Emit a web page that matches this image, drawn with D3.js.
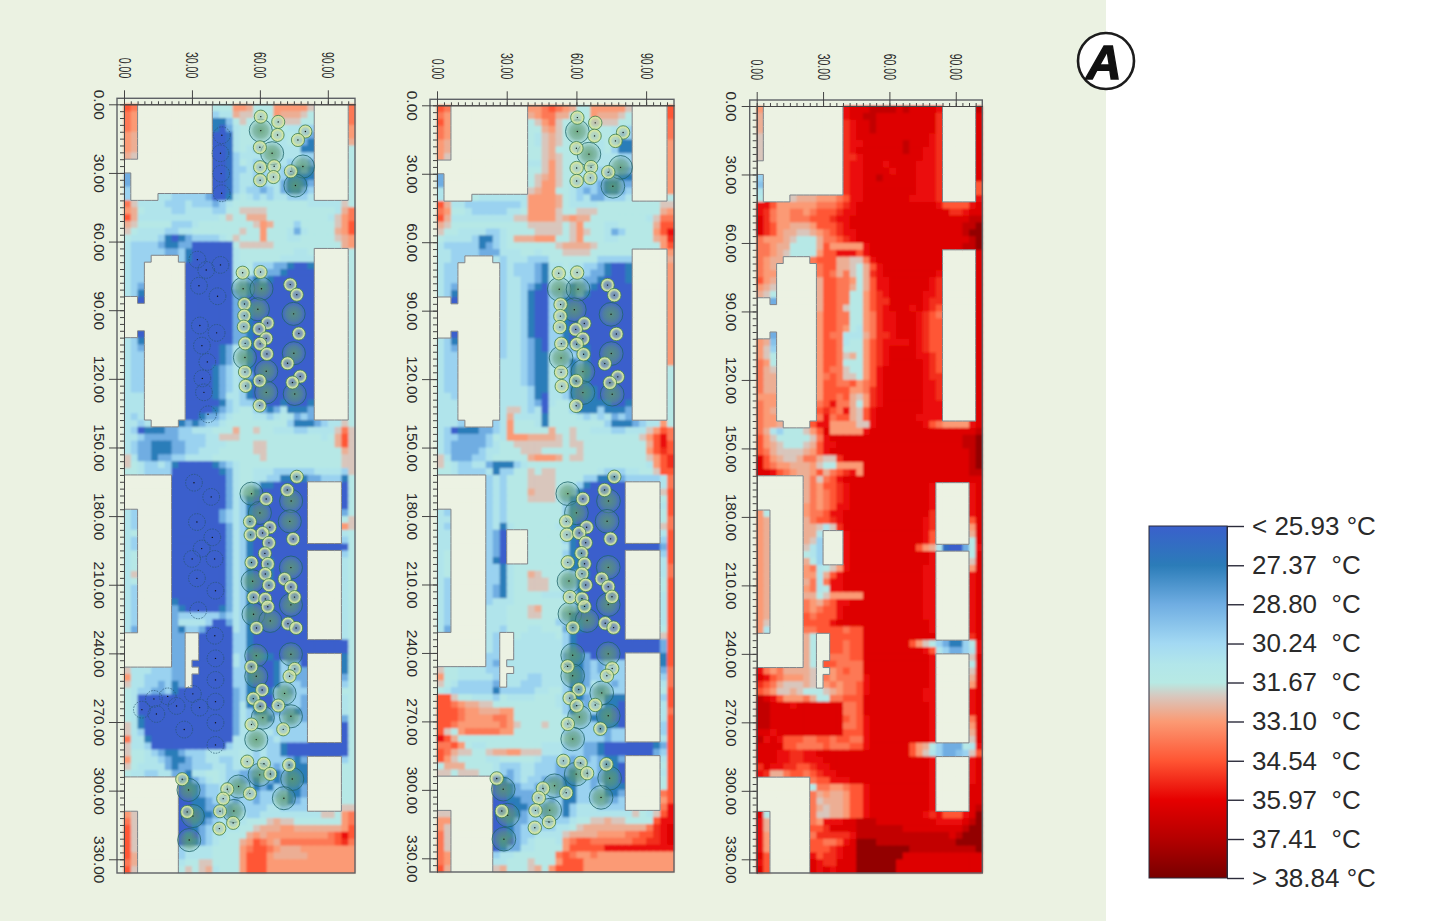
<!DOCTYPE html>
<html>
<head>
<meta charset="utf-8">
<title>Air temperature maps</title>
<script src="https://cdn.jsdelivr.net/npm/d3@7"></script>
<style>
  body { margin: 0; background: #fff; }
  svg { display: block; }
  text { font-family: "Liberation Sans", sans-serif; fill: #2a2a2a; white-space: pre; }
</style>
</head>
<body>
<div id="chart"></div>
<script>
// legend
var legendTemps = [25.93, 27.37, 28.80, 30.24, 31.67, 33.10, 34.54, 35.97, 37.41, 38.84];
var legendLabels = ["< 25.93 °C", "27.37  °C", "28.80  °C", "30.24  °C", "31.67  °C", "33.10  °C", "34.54  °C", "35.97  °C", "37.41  °C", "> 38.84 °C"];
var colorTemps = [25.93, 27.37, 28.80, 30.24, 31.00, 31.67, 32.20, 33.10, 34.54, 35.97, 37.41, 38.84];
var colorValues = ["#3a60cc", "#2b7cb8", "#6fade2", "#a3d9f3", "#b2e6ea", "#b7e9e4", "#d9c6bc", "#fb9a74", "#ff5533", "#e60000", "#b40000", "#780000"];

// each letter of a row is one 3 m cell, "." is a building
var tempCodes = "abcdefghijklmnopqrst".split("");
var tempValues = [25.9, 26.6, 27.4, 28.1, 28.8, 29.5, 30.0, 30.9, 31.5, 32.2, 32.7, 33.1, 33.8, 34.5, 35.2, 35.7, 36.2, 37.0, 38.2, 38.8];

var xMajor = [0, 30, 60, 90];
var yMajor = [0, 30, 60, 90, 120, 150, 180, 210, 240, 270, 300, 330];

var rowsLeft = [
"nm... ..... ...ii illki iilll llj.. ...m",
"ml... ..... ...gh hkjji iilkk kji.. ...m",
"ml... ..... ...cc fijii iiijj jii.. ...m",
"ml... ..... ...ca ehiih iiiih hgg.. ...l",
"lk... ..... ...aa bhiih iiihi hge.. ...l",
"lk... ..... ...aa bhiih ihhhi hec.. ...k",
"lk... ..... ...aa bhihg hihhh hcc.. ...i",
"kj... ..... ...aa bghhh hihhh hgg.. ...i",
"..... ..... ...aa bgihg hihhg hge.. ...i",
"..... ..... ...aa bgghg ghhgg cec.. ...i",
"e.... ..... ...aa bghhg ghhgc ccc.. ...i",
"e.... ..... ...aa bghhg ghhec cce.. ...i",
"g.... ..... ...aa bghgg eghec ceg.. ...i",
"g.... hhggg ggeaa chihg hghhg ggh.. ...i",
"mjhhh hgggh gggeg hiiii iiiii iihhh hhji",
"lkihh hhggh hhhgg iijjj jiiii iiiii ihkm",
"nkhhh hhhhh hhhhi jiikk kiiii iiiii hjlm",
"kjiii iiggg hiiii iiiij lkiii giiii ijln",
"jihhh hgghh iiiii iijii liiih ehiii ikln",
"ihhhh gcace ggggh ijiii liiih hiiii ijkl",
"hgggg eccee aaaaa aijjj jjiii iiiii iikl",
"hgggg geegc aaaaa ahiii iiiii hhi.. ...i",
"hggg. ...gc aaaaa ahiii iiihh hhh.. ...i",
"hgg.. ....a aaaaa ahhig ggeec aac.. ...i",
"hgg.. ....a aaaaa ahhig geeca aaa.. ...i",
"hgg.. ....a aaaaa ahgec ecaaa aaa.. ...i",
"hge.. ....a aaaaa ageca caaaa aaa.. ...i",
"hgc.. ....a aaaaa aeeca aaaaa aaa.. ...i",
"..a.. ....a aaaaa aecaa aaaaa aaa.. ...i",
"..... ....a aaaaa aeeca aaaaa aaa.. ...i",
"..... ....a aaaaa aeeca aaaaa aaa.. ...i",
"..... ....a aaaaa aeeca aaaaa aaa.. ...i",
"..... ....a aaaaa aeeca aaaaa aaa.. ...i",
"..a.. ....a aaaaa aeeca aaaaa aaa.. ...i",
"hgc.. ....a aaaaa aeeca aaaaa aaa.. ...i",
"hge.. ....a aaaac ehgca aaaaa aaa.. ...i",
"hgg.. ....a aaaac ehgca aaaaa aaa.. ...i",
"hgg.. ....a aaaac ehgca aaaaa aaa.. ...i",
"hgg.. ....a aaace ghgca aaaaa aaa.. ...i",
"hgg.. ....a aaace ghgea aaaaa aaa.. ...i",
"hgg.. ....a aaace ghgca aaaaa aaa.. ...i",
"hgg.. ....a aaace ghgca aaaaa aaa.. ...i",
"hhh.. ....a aaace hhgca aaaaa aaa.. ...i",
"hhh.. ....a aaaac ghgge aaaca aac.. ...i",
"hhh.. ....a aaace ghiig ecehc cce.. ...i",
"hgh.. ....a aceeg hiiih hghih ege.. ...i",
"hhgh. ...ce ceggh iiiii iiiig ccceg hhji",
"hgacc ceegg hhhii ikiij iihhh gghhh hjmj",
"hhgee eeegg gghhj jjiii iiiii iiiih iknj",
"hgeec cceeg gghhh iiiij jiiii iiiii iknj",
"hgeec cceeg ghhhi iiiij jiiii iiiii iikj",
"jheec eeggh hhhii iiiii jiiii iiiii iijj",
"jihgg hgcaa aaace ghiii iiiii iiiii iijj",
"iihgg ggaaa aaaac ehiih hhggg ggghh hhgj",
"..... ..aaa aaaaa ehiih hggcc cceeg ggci",
"..... ..aaa aaaaa ehihg ccaaa aa... ..ai",
"..... ..aaa aaaaa ehihc aaaaa aa... ..ai",
"..... ..aaa aaaaa ehgca aaaaa aa... ..ai",
"..... ..aaa aaaaa ehgca aaaaa aa... ..ai",
"hg... ..aaa aaaae ghgca aaaaa aa... ..ei",
"hg... ..aaa aaaae ghgca aaaaa aa... ..ij",
"hg... ..aaa aaaaa ehgca aaaaa aa... ..lj",
"hi... ..aaa aaaaa ehgca aaaaa aa... ..hi",
"hg... ..aaa aaaaa ehgca aaaaa aa... ..gi",
"hg... ..aaa aaaaa ehgca aaaaa aaaaa aaai",
"hi... ..aaa aaaaa ehgca aaaaa aa... ..gi",
"hi... ..aaa aaaaa ehgca acaaa aa... ..hi",
"hi... ..aaa aaaaa ehgca acaaa aa... ..hi",
"hj... ..aaa aaaaa ehgca acaaa aa... ..hi",
"hi... ..aaa aaaaa ehgca acaaa aa... ..hi",
"hg... ..aaa aaaaa ehgca aaaaa aa... ..hi",
"hg... ..aaa aaaaa ehgca aaaaa aa... ..hi",
"hg... ..caa aaaaa ehgca aaaaa aa... ..hi",
"hg... ..eca aaaac ehgca aaaaa aa... ..hi",
"hg... ..egg gggge ghgca aaaaa aa... ..hi",
"hg... ..ehh hhgaa ehgca aaaaa aa... ..hi",
"he... ..ecg geaaa ahgca aaaaa aa... ..hi",
"..... ..ee. .aaaa aggca aaaaa aa... ..hi",
"..... ..ee. .aaaa aggca aaaaa aaaaa aaai",
"..... ..ee. .aaaa aggca aaaaa aaaaa aaai",
"..... ..ee. .aaaa ahgac ccaaa aa... ..ci",
"..... ..ee. aaaaa ahgaa aacge ea... ..ci",
"jhhhg ggee. .aaaa aggaa aacgg ee... ..ci",
"lhhgg ggee. aaaaa aggca aacgg ee... ..ei",
"jhhgg egce. aaaaa aggca aacgg ge... ..gi",
"ihgge egcaa aaaaa aegcc acgge gg... ..ii",
"ihaaa aaaaa aaaaa aegcc aaggg ge... ..hi",
"ihaaa aaaaa aaaaa aehcc aaeeg ge... ..hi",
"ihaaa aaaaa aaaaa aehgc ceeee ce... ..hi",
"ihcaa aaaaa aaaaa aehgg gcgge ge... ..ei",
"jhcaa aaaaa aaaaa aehhg ggggg gg... ..ai",
"jhgaa aaaaa aaaaa aehhh hhggg gg... ..ai",
"mhhca aaaaa aaaaa ahhhh hghgg gg... ..ai",
"jhhga aaaaa aaaaa ghhhh hggca aaaaa aaai",
"jiihg ecceg gghhh hhihg hggca aaaaa aaai",
"liihh gecce gghhg ghihg hggge ce... ..gi",
"jihhh hecee ggghh ghhgg ggegc cc... ..ii",
"ihhgg hheec hhiih ggeee gecec cc... ..ii",
"..... ...ec eghih ggeec gecec cc... ..ii",
"..... ...ac ceggh hgggc ecgec ce... ..ii",
"..... ...aa ceggh gggge ggggc ce... ..ii",
"..... ...aa ccegg gegge gghgc eg... ..ii",
"..... ...aa cceeg egggg ghhgg gg... ..jj",
"lj... ...aa acceg eghgg hhhhh hhhhj jilm",
"mj... ...aa ccegh ghhii ijkjj iiiii iilm",
"nj... ...aa ceggh hhiij kkkll kkkkk kkln",
"nj... ...ac aeghh iiikl kllll lllll mnpn",
"nj... ...ac ceghi iikln mlkmm mmmmm mnom",
"nj... ...gh hhhii iilmn nmlkk kllll llll",
"nk... ...gh hhhii iilnn nlkkk kklll llll",
"mk... ...hi ijjii iilnn nllll lllll llll",
"nj... ...ij ijkhi iilnn nllll lllll llll"
];

var rowsMiddle = [
"nm... ..... ...ll mnmlk iilll llj.. ...n",
"ml... ..... ...kl mmkki iilkk kji.. ...n",
"nl... ..... ...ij lmjii iijjj jii.. ...m",
"ml... ..... ...ii kljii iiiii hhg.. ...m",
"ml... ..... ...ih jkjii iiiii heg.. ...m",
"lk... ..... ...ih jkjii iiihi hcc.. ...l",
"lk... ..... ...ii jkiii iihhi gcc.. ...l",
"lj... ..... ...ii jkjii ihhhh hgg.. ...l",
"..... ..... ...hh jljii iihhh hgg.. ...l",
"..... ..... ...ii jljii hhhgg gee.. ...l",
"e.... ..... ...ij kljii hhgge ecc.. ...l",
"e.... ..... ...ij lljih gggec cee.. ...l",
"h.... ..... ...jk lliih gegec ceg.. ...l",
"h.... ihhhh hhhll llkih gheeg ggh.. ...i",
"nkhhg ggggg gghll llkih hhhii iiiii iijj",
"mliih ggggg hhill lljii jjjii iiiii iikl",
"nkhhh hhhhh hjjll lljkl kkiii iiiii hjmm",
"kjiii iiiii iiijj jjjij liiih hiiii iknn",
"jiihh hhggh iiiij jjjij ljiih egiii ilnp",
"ihhhh gccgh ikkkl lliij liiih hiiii iklo",
"hgggg gcegh iiiii iijkk kkjii iiiii iiln",
"hhggg geeeh hhiih iiijj jjiii iii.. ...l",
"hhgg. ...hg hhhgg giiii iiigg ggg.. ...k",
"hgg.. ....g hggge chhih hggec aac.. ...l",
"hgg.. ....g hggge chhih hgeec aac.. ...l",
"hgg.. ....g hhgge chhhg geeca aac.. ...l",
"hge.. ....g hhgec ahhgc eecaa aaa.. ...l",
"hgc.. ....g hhgca aggec ecaaa aaa.. ...l",
"..a.. ....g hhgca aggca aaaaa aaa.. ...l",
"..... ....g hhgca aggca aaaaa aaa.. ...l",
"..... ....g hhgca aggca aaaaa aaa.. ...l",
"..... ....g hhgca aggca aaaaa aaa.. ...l",
"..... ....g hhgca aggca aaaaa aaa.. ...l",
"..a.. ....g hhgca aggca aaaaa aaa.. ...l",
"hgc.. ....g hhgec aggca caaaa aaa.. ...l",
"hge.. ....g hhgec aghge ccaaa aaa.. ...l",
"hgg.. ....g hhgec chhgg ecaaa aaa.. ...l",
"hgg.. ....h hhgec chhgc ecaaa aaa.. ...l",
"hgg.. ....h hhgec chhgc ecaaa aaa.. ...i",
"hgg.. ....h hhgec chhgc ecaaa aaa.. ...i",
"hgg.. ....h hhgec chhgc acaaa aaa.. ...i",
"hgg.. ....h hhhgc chhgc accaa aaa.. ...i",
"hhg.. ....h hhhgc ahhgc accaa aaa.. ...i",
"hhh.. ....h hhhge ahiig acccc aac.. ...i",
"hhh.. ....h jjhgh aiiig cccgc cce.. ...i",
"hhh.. ....h khhhh ciiii hghgh ege.. ...i",
"hhhg. ...gh liiih ciiii iiiig ccceg hhli",
"hgacc ceegh liiii ikiij iihhh gghhh jlnm",
"hggee eegih lllkk kkjij iiiii iiiij lnpm",
"hgeee eeghi ijjjj jjjij jiiii iiiii knpn",
"hgeee eghhi iijjj iiiii jiiii iiiii lnon",
"jheee gghii iiikl llkij jiiii iiiii jlno",
"jihgg hhecc cghii iiiii iiiii iiiii hlno",
"iihgg gghcg giiji jjiii iiihg gghhi ijnn",
"..... ..ghg iiijj jjiii iggcc ceggg gghm",
"..... ..ghg iiijj jjiih gcaaa aa... ..hm",
"..... ..ghg iiikj jjiig caaaa aa... ..jn",
"..... ..ghg iiijj jjhgc aaaaa aa... ..in",
"..... ..ghg iiiii iiigc aaaaa aa... ..hn",
"hg... ..ghg iiiii iiigc aaaaa aa... ..in",
"hh... ..ghg iiiii iiigc aaaaa aa... ..im",
"hg... ..ghc hiiii iihgc aaaaa aa... ..jm",
"hh... ..gea ...ii iiigc aaaaa aa... ..hn",
"hh... ..gea ...ii iiigc aaaaa aa... ..gn",
"hh... ..gea ...ii iiihc aaaaa aaaaa aaen",
"hi... ..gea ...ii iiigc caaaa aa... ..gn",
"hi... ..gca ...ii iiigc caaaa aa... ..hn",
"hi... ..ggc hiiii iiigc caaaa aa... ..hm",
"hi... ..ggc hiikj iiihg ecaaa aa... ..hm",
"hg... ..ggc hiijj jiigg caaaa aa... ..in",
"hg... ..gec hiijj jiigg caaaa aa... ..in",
"hg... ..gec hiiii hhhgg caaaa aa... ..hn",
"hg... ..ghh hiiii iiihg caaaa aa... ..hn",
"hg... ..hhh iiijk iiiig ccaaa aa... ..hn",
"hg... ..hhh iiijj iiigc aaaaa aa... ..hn",
"hg... ..hhh iiiii iiggc caaaa aa... ..hn",
"he... ..hhg iiihh iiiec caaaa aa... ..in",
"..... ..hg. .ihhh hhigc aaaaa aa... ..jn",
"..... ..hg. .hhhh hhhgc aaaaa aaaaa aaen",
"..... ..hg. .hhhh hhhgc aaaaa aaaaa aaen",
"..... ..gg. .hhhh hhhec ceaaa aa... ..cn",
"..... ..ge. hhhhh hhhec cegeg gg... ..cn",
"jiihh hhgg. .hhhh hhhgc cegeg gg... ..em",
"liihh hhhg. hhhgg hhhgc ceggg gg... ..gm",
"jihgg ggge. hhggg hhhgc cehgg eg... ..hm",
"ihggg gggcg ggggh hiigc cggeg gg... ..in",
"nnjii hhhgi hhhhi iihgc ceggc cc... ..gn",
"nnmlk kjjii iiiii iihgc geggc ca... ..hn",
"nnnml lkkkl liiii iiigc gggcc aa... ..hm",
"nnnml lllmm liiii iiihg ggccc aa... ..hn",
"nnmll llllm ljiii jiigg gggcc ca... ..gn",
"njilm mmmml liiii iiigg gggce gg... ..gn",
"pnkii iiiii iiiii iiihg gggge gg... ..hn",
"mmnli hhiii iiiii hhhgg geeca aaaaa acen",
"nmkjj iijkk lljjj hhhgg geeca aaaaa aegn",
"nljii iihhi iiiih gggge gegec ce... ..hn",
"ikkki iiihg gghhg ggeee eggec ca... ..in",
"jjijj jiihg eghhg ggeec gggec ca... ..hn",
"..... ...ac eghgg eeecc ggeec ca... ..in",
"..... ...aa cegge ggecc ggegc cc... ..in",
"..... ...aa ceeeg ggegc ggggc ce... ..mn",
"..... ...aa cceeg gegcc gggge eg... ..ln",
"..... ...aa acceg eggcg hhhgg gg... ..mp",
"jj... ...aa acegg eggcg hhhhh hhhji hjnp",
"ll... ...aa ceegg ggggh iijjk jjiii inpp",
"lj... ...aa ceggg gghhi jkkkk kkkkk mopq",
"mj... ...aa ceggh hhhjk kkkll llmmn nopq",
"mj... ...ac aeghi iihlm nnmmm mmmnn oopq",
"mj... ...ac eehhi iiiln nnnnp ppppp pppp",
"ml... ...gh hiiii iimnm llmll lllll llll",
"ml... ...hh iiiji iilnn nllll lllll llll",
"nk... ...jk iiijk ilnnn nllll lllll llll"
];

var rowsRight = [
"l.... ..... ...pq qqrrr rqrqq qqp.. ...r",
"k.... ..... ...pq qrrqq qqqqq qqo.. ...q",
"k.... ..... ...op qqrqq qqqqq qqo.. ...q",
"k.... ..... ...op qqrqq qqqqq qqo.. ...q",
"j.... ..... ...op qqqqq qqqqq qpo.. ...q",
"j.... ..... ...op pqqqq qqrqq qpo.. ...q",
"j.... ..... ...op qqqqq qqrqq ppo.. ...q",
"j.... ..... ...oo pqqqq qqqqq ppo.. ...q",
"..... ..... ...op pqqqp qqqqp ppo.. ...q",
"..... ..... ...op pqqqq pqqqp ppo.. ...q",
"g.... ..... ...op pqqrq qqqqp ppo.. ...q",
"f.... ..... ...op pqqqq qqqqp ppo.. ...n",
"h.... ..... ...op pqqqq qqqqp ppo.. ...n",
"i.... jkkkl llmnp pqqqq qqqpp ppo.. ...p",
"ppnll llllm mmnop qqqqq qqqqq qqpnn nnpq",
"pomll mmlmn nnopp qqqqq qqqqq qqqqo opqq",
"qomll mmmnn noppq qqqqq qqqqq qqqqq qqrr",
"qonll kkkln nnopq qqqqq qqqqq qqqqq qrrs",
"qonlk kjjkl mnopp qqqqq qqqqq qqqqq qrss",
"mlllk jiiik mmnop qqqqq qqqqq qqqqq qqrs",
"mmlkk iiiik nllll lpqqq qqqqq qqqqq qrrs",
"mmlkj iiiil nnppp npqqq qqqqq qqq.. ...q",
"mlkk. ...mn nnkkj jmpqq qqqqq qqq.. ...q",
"mlk.. ....m nnkkj iknpq qqqqq qqq.. ...q",
"mll.. ....m nmkmj ikopq qqqqq qqp.. ...q",
"nlk.. ....k nnmml iknpp qqqqq qpo.. ...q",
"lkj.. ....k nnmmk iknpp qqqqq qpo.. ...q",
"kji.. ....k nnmmi ilnop qqqqq ppo.. ...q",
"..e.. ....k nnmmi ilnoo qqqqq poo.. ...q",
"..... ....k nnmji ilnop qqqpq pon.. ...q",
"..... ....l nnmmi ilmop pqqqp onm.. ...q",
"..... ....l nnmmi ilmop pqqqp onn.. ...q",
"..... ....l nnmli hlmop pqqqp onn.. ...q",
"..e.. ....l nmmhh hkmoo pqqqp onn.. ...q",
"lkf.. ....l nnmhi ilnop pppqp onn.. ...q",
"ljg.. ....l nnmii ilnop qqqqp onn.. ...q",
"lji.. ....l nnmjk ilnop qqqqp pon.. ...q",
"mli.. ....l nnmii ilnop qqqqq pon.. ...q",
"mkj.. ....l nmmji ilnpq qqqqq pon.. ...q",
"mkk.. ....l mnmjj ilnpq qqqqq poo.. ...q",
"mkk.. ....l nnmmn lmnpq qqqqq ppo.. ...q",
"mkk.. ....l nnnnl lmopq qqqqq ppo.. ...q",
"lll.. ....l nnmnk jlopq qqqqq ppo.. ...q",
"mll.. ....m npmmk ilopq qqqqq ppp.. ...q",
"mlk.. ....n onmpk jnpqq qqqqq ppp.. ...q",
"mll.. ....m pmnnk jnpqq qqqqp ppp.. ...q",
"mllk. ...np pllll jjpqq qqqqq pnmll llpq",
"mkhgi iijln qllll lpqqq qqqqq qqqqq qqqr",
"nljii iiijm pqqqq qqqqq qqqqq qqqqq qrrs",
"nlkji iijkn ppqqq qqqqq qqqqq qqqqq qrrs",
"nmkjj jjkln pqqqq qqqqq qqqqq qqqqq qqrs",
"qnlkj jkmmk jjoqq qqqqq qqqqq qqqqq qqrs",
"qnmll kkklj iilll lqqqq qqqqq qqqqq qqrs",
"qqpnm lkkln kmnop lqqqq qqqqq qqqqq qqrr",
"..... ..kmj mnpqq qqqqq qqqqq qqqqq qqqq",
"..... ..kml nnopq qqqqq qqqqq qp... ..pq",
"..... ..kml mnopq qqqqq qqqqq qp... ..pq",
"..... ..kml mnopq qqqqq qqqqq qp... ..pq",
"..... ..lml mnppq qqqqq qqqqq qp... ..pq",
"li... ..lmm nppqq qqqqq qqqqq qo... ..pq",
"lk... ..kmn nopqq qqqqq qqqqq po... ..nq",
"lk... ..kkj hjoqq qqqqq qqqqq po... ..lq",
"lk... ..kkh ...pq qqqqq qqqqq pn... ..kq",
"lk... ..kjg ...pq qqqqq qqqqq pn... ..iq",
"lk... ..jhg ...pq qqqqq qqqqn lkhba aeip",
"lk... ..ihg ...pq qqqqq qqqqq qp... ..iq",
"lk... ..kig ...pq qqqqq qqqqq qp... ..jq",
"lk... ..lmh ijlpq qqqqq qqqqq pp... ..lq",
"lk... ..llh knpqq qqqqq qqqqq pp... ..pq",
"lk... ..kmh mppqq qqqqq qqqqq pp... ..pq",
"lk... ..lmh ippqq qqqqq qqqqq pp... ..pq",
"lk... ..kki jllll lqqqq qqqqq pp... ..pq",
"lk... ..mlk mnppq qqqqq qqqqq pp... ..pq",
"lk... ..mlm nnpqq qqqqq qqqqq pp... ..pq",
"lk... ..nmn nnpqq qqqqq qqqqq pp... ..pq",
"lj... ..nnn npqqq qqqqq qqqqq qp... ..pq",
"lh... ..mmn nnnmn nqqqq qqqqq qp... ..pq",
"..... ..ki. .nnnn nqqqq qqqqq qq... ..oq",
"..... ..ki. .nnmn nqqqq qqqnl jigec cgip",
"..... ..ki. .nnmn nqqqq qqqqq pnhge eghp",
"..... ..ki. .mmmn nqqqq qqqqq qp... ..jq",
"..... ..ki. nnmmm mqqqq qqqqq qp... ..iq",
"pmlmk kkkj. .lmnm mqqqq qqqqq qp... ..jq",
"qpnml llkj. mlmmm mpqqq qqqqq qp... ..kq",
"onmkj jjkj. lmlmm npqqq qqqqq qp... ..lq",
"nmljj kjiii jklmm npqqq qqqqq pp... ..pq",
"rqpnl llmki immnn nqqqq qqqqq pp... ..pq",
"rrqqq pqqqq qqqmm nqqqq qqqqq qp... ..pq",
"rrqqq qqqqq qqqmm nqqqq qqqqq qp... ..pq",
"rrqqq qqqqq qqqnm npqqq qqqqq qp... ..mq",
"rrqqq qqqqq qqqmm npqqq qqqqq qp... ..lq",
"qqpqq qqqqq qqqnn npqqq qqqqq qp... ..kq",
"rpqpn nnmmn nmnnm mpqqq qqqqq qp... ..jq",
"qqqqn nmmmm nmmmn npqqq qqqnl kigee eihp",
"qqqpp ooppq qqqqq qqqqq qqqnl jhgee fgjn",
"qqqpp ooppp qqqqq qqqqq qqqqq qp... ..pq",
"oqppo onnop pqqqq qqqqq qqqqq qp... ..pq",
"pokkm nnmno ppqqq qqqqq qqqqq qp... ..pq",
"..... ...mn npppq qqqqq qqqqq qp... ..pq",
"..... ...im mllmn npqqq qqqqq qp... ..qq",
"..... ...mk lkkln npqqq qqqqq qp... ..qq",
"..... ...mj kkkln npqqq qqqqq qp... ..qq",
"..... ...mk jkkln npqqq qqqqq qp... ..qr",
"qi... ...mj jkkln npqqq qqqqq popnn npqs",
"pk... ...ml pppqq rrrqq qqqqq qqppp pqrs",
"pk... ...nn oqqqq rrrrr rrqqq qqqqq qrss",
"pl... ...mo oooop rrrrr rrrrr rrrrq rsss",
"pl... ...nn mmnpq sssrr rrrrr rrrrr ssss",
"pl... ...nn nopqq sssss sssrr rrrrr rrrs",
"qn... ...pn oopqq sssss ssqqq qqqqq qqqq",
"pn... ...qp ooqqq sssss sqqqq qqqqq qqqq",
"qn... ...qp qpqqq sssss sqqqq qqqqq qqqq"
];

// trees in metres: x, y
var smallTreeX = [60.4,68.1,67.8,80.1,76.8,60,60.1,66.3,66,60.1,73.7,52.4,60.3,73.4,76.3,53.2,53.1,52.9,63.4,59.7,62.8,60.1,53.5,77.2,63.1,72.2,53.4,77.8,74.4,59.9,53.7,59.9,76.3,72.1,62.8,55.6,64.4,55.9,61.2,64,62.2,63.5,56.3,62.4,70.9,64,73.7,75.3,57.2,62.4,63.5,58.5,72.4,76,74.7,56.2,75.4,73.1,61,57.1,68.1,60.1,56.3,70.3,54.4,61.8,72.9,64.6,25.7,55.6,45.6,43.8,42.4,27.9,48.2,42.1];
var smallTreeY = [5.4,7.7,13.4,11.9,15.6,18.8,27.5,27.1,31.8,33.2,29.3,73.6,73.3,78.8,83.2,87.3,92.4,97.2,95.6,98.2,102.3,104.7,104.5,100.2,109.1,113.2,117,119,121.6,120.8,123.1,131.7,162.8,168.6,172.5,182.4,184.9,188.2,187.4,191.7,196.3,200.9,200.3,205.3,207.5,210.2,211,215.4,215.5,216.2,219.6,228.9,227,228.9,190,245.9,246.8,250,256,259.8,262.8,263.1,271.1,273.2,287.3,288.2,288.8,292.7,295,301.3,299.4,303.5,309,309.3,314.1,316.6];
var largeTreeX = [60.4,65.4,79,75.7,52.6,60.7,59.1,74.9,75,53.4,62.8,62.8,75.4,56.3,73.8,60,73.2,73.7,56.8,73.7,57.2,64.6,58.4,73.7,58.4,70.9,73.7,61.3,58.4,59.9,74.3,28.5,50.6,70.6,48.5,30.4,28.8];
var largeTreeY = [11.5,21.4,27.2,35.5,80.6,80.6,89.6,91.6,108.8,110.7,116.7,125.9,126.6,170.2,173.4,178.6,182.3,202.5,208.5,218.8,222.9,225.8,241,240.4,250,257.5,267.5,268.1,277.7,293.1,294.9,299.7,298.2,303.3,308.9,311.1,321.6];
var dashedTreeX = [32.4,36.3,42.6,33.1,41.3,33.5,40.9,34.4,36.8,34.6,35.3,37.1,43.2,42.6,42.9,43.1,30.9,38.5,32.2,39,34.3,30.1,40,32.2,40.4,32.8,40.1,40.4,40.4,30.4,19.3,13.2,23.2,7.9,14.3,33.4,40.4,40.4,26.6,40.4];
var dashedTreeY = [67.9,72.4,70.2,79.3,83.9,96.7,99.9,105.5,112.6,119.8,125.9,135.5,13.5,21.4,30.3,38.9,165.4,171.6,182.6,189.3,194.2,198.7,198.7,207.2,212.6,221.2,232.3,242.2,251.6,257.7,258.8,259.9,263,264.6,266.5,263.7,261.1,270.3,273.3,280];

var cellSize = 3;
var nCols = 34;
var nRows = 112;
var smallRadius = 2.9, largeRadius = 5.1, dashedRadius = 3.7;

var svg = d3.select("#chart").append("svg")
  .attr("width", 1440)
  .attr("height", 921);

svg.append("rect")
  .attr("width", 1106)
  .attr("height", 921)
  .attr("fill", "#ebf2e2");

var defs = svg.append("defs");

defs.append("filter")
  .attr("id", "soft")
  .append("feGaussianBlur")
  .attr("stdDeviation", 0.9);

var smallGrad = defs.append("radialGradient").attr("id", "smallFill");
smallGrad.append("stop").attr("offset", "0%").attr("stop-color", "#9db8a0").attr("stop-opacity", 0.5);
smallGrad.append("stop").attr("offset", "50%").attr("stop-color", "#b9cfa8").attr("stop-opacity", 0.6);
smallGrad.append("stop").attr("offset", "78%").attr("stop-color", "#d3e6a4").attr("stop-opacity", 0.95);
smallGrad.append("stop").attr("offset", "100%").attr("stop-color", "#d3e6a4").attr("stop-opacity", 1);

var largeGrad = defs.append("radialGradient").attr("id", "largeFill");
largeGrad.append("stop").attr("offset", "0%").attr("stop-color", "#5f9a6c").attr("stop-opacity", 0.8);
largeGrad.append("stop").attr("offset", "60%").attr("stop-color", "#5f9a78").attr("stop-opacity", 0.55);
largeGrad.append("stop").attr("offset", "100%").attr("stop-color", "#6aa090").attr("stop-opacity", 0.12);

var tempColor = d3.scaleLinear()
  .domain(colorTemps)
  .range(colorValues);

var codeColor = d3.scaleOrdinal()
  .domain(tempCodes)
  .range(tempValues.map(function(t) { return tempColor(t); }));

function parseRows(rows) {
  return rows.map(function(r) { return r.replace(/ /g, "").split(""); });
}

function drawPanel(rows, frame, withTrees, withDashed) {
  var grid = parseRows(rows);

  var x = d3.scaleLinear().domain([0, nCols * cellSize]).range([frame.left, frame.right]);
  var y = d3.scaleLinear().domain([0, nRows * cellSize]).range([frame.top, frame.bottom]);

  var cells = [];
  grid.forEach(function(row, r) {
    row.forEach(function(code, c) {
      if (code != ".") cells.push({ r: r, c: c, code: code });
    });
  });

  var g = svg.append("g");

  function drawCells(layer) {
    layer.selectAll("rect")
      .data(cells)
      .enter()
      .append("rect")
      .attr("x", function(d) { return x(d.c * cellSize); })
      .attr("y", function(d) { return y(d.r * cellSize); })
      .attr("width", function(d) { return x(cellSize) - x(0) + (d.c < nCols - 1 ? 1 : 0); })
      .attr("height", function(d) { return y(cellSize) - y(0) + (d.r < nRows - 1 ? 1 : 0); })
      .attr("fill", function(d) { return codeColor(d.code); });
  }

  // crisp layer under a blurred one, the blur alone fades at the outer border
  drawCells(g.append("g"));
  drawCells(g.append("g").attr("filter", "url(#soft)"));

  // blur bleeds into the buildings, so cover them again
  function isBuilding(r, c) {
    return grid[r] && grid[r][c] == ".";
  }
  var coverRect = [];
  var outline = d3.path();
  grid.forEach(function(row, r) {
    row.forEach(function(code, c) {
      if (code != ".") return;
      coverRect.push({ r: r, c: c });
      var x0 = x(c * cellSize), x1 = x((c + 1) * cellSize);
      var y0 = y(r * cellSize), y1 = y((r + 1) * cellSize);
      if (c > 0 && !isBuilding(r, c - 1)) { outline.moveTo(x0, y0); outline.lineTo(x0, y1); }
      if (c < nCols - 1 && !isBuilding(r, c + 1)) { outline.moveTo(x1, y0); outline.lineTo(x1, y1); }
      if (r > 0 && !isBuilding(r - 1, c)) { outline.moveTo(x0, y0); outline.lineTo(x1, y0); }
      if (r < nRows - 1 && !isBuilding(r + 1, c)) { outline.moveTo(x0, y1); outline.lineTo(x1, y1); }
    });
  });

  g.append("g")
    .selectAll("rect")
    .data(coverRect)
    .enter()
    .append("rect")
    .attr("x", function(d) { return x(d.c * cellSize) - 0.2; })
    .attr("y", function(d) { return y(d.r * cellSize) - 0.2; })
    .attr("width", x(cellSize) - x(0) + 0.4)
    .attr("height", y(cellSize) - y(0) + 0.4)
    .attr("fill", "#ecf2e3");

  g.append("path")
    .attr("d", outline.toString())
    .attr("fill", "none")
    .attr("stroke", "#7d8288")
    .attr("stroke-width", 1);

  if (withDashed) {
    var dashed = g.append("g").selectAll("g")
      .data(dashedTreeX.map(function(v, i) { return { x: v, y: dashedTreeY[i] }; }))
      .enter()
      .append("g");
    dashed.append("circle")
      .attr("cx", function(d) { return x(d.x); })
      .attr("cy", function(d) { return y(d.y); })
      .attr("r", x(dashedRadius) - x(0))
      .attr("fill", "none")
      .attr("stroke", "#27546f")
      .attr("stroke-width", 0.7)
      .attr("stroke-dasharray", "1.6 1.2");
    dashed.append("circle")
      .attr("cx", function(d) { return x(d.x); })
      .attr("cy", function(d) { return y(d.y); })
      .attr("r", 0.7)
      .attr("fill", "#111");
  }

  if (withTrees) {
    var large = g.append("g").selectAll("g")
      .data(largeTreeX.map(function(v, i) { return { x: v, y: largeTreeY[i] }; }))
      .enter()
      .append("g");
    large.append("circle")
      .attr("cx", function(d) { return x(d.x); })
      .attr("cy", function(d) { return y(d.y); })
      .attr("r", x(largeRadius) - x(0))
      .attr("fill", "url(#largeFill)")
      .attr("stroke", "#1f6468")
      .attr("stroke-width", 0.8);
    large.append("circle")
      .attr("cx", function(d) { return x(d.x); })
      .attr("cy", function(d) { return y(d.y); })
      .attr("r", 0.7)
      .attr("fill", "#111");

    var small = g.append("g").selectAll("g")
      .data(smallTreeX.map(function(v, i) { return { x: v, y: smallTreeY[i] }; }))
      .enter()
      .append("g");
    small.append("circle")
      .attr("cx", function(d) { return x(d.x); })
      .attr("cy", function(d) { return y(d.y); })
      .attr("r", x(smallRadius) - x(0))
      .attr("fill", "url(#smallFill)")
      .attr("stroke", "#3f7d4c")
      .attr("stroke-width", 0.8);
    small.append("circle")
      .attr("cx", function(d) { return x(d.x); })
      .attr("cy", function(d) { return y(d.y); })
      .attr("r", 0.7)
      .attr("fill", "#111");
  }

  // ruler frame
  g.append("rect")
    .attr("x", frame.left - 7)
    .attr("y", frame.top - 6)
    .attr("width", frame.right - frame.left + 7)
    .attr("height", frame.bottom - frame.top + 6)
    .attr("fill", "none")
    .attr("stroke", "#5e6266")
    .attr("stroke-width", 1.4);

  var minorX = d3.axisTop(x).tickValues(d3.range(0, 102, cellSize)).tickSize(3).tickSizeOuter(0).tickFormat("");
  var minorY = d3.axisLeft(y).tickValues(d3.range(0, 336, cellSize)).tickSize(4).tickSizeOuter(0).tickFormat("");
  var majorX = d3.axisTop(x).tickValues(xMajor).tickSize(14).tickSizeOuter(0).tickFormat(d3.format(".2f"));
  var majorY = d3.axisLeft(y).tickValues(yMajor).tickSize(15).tickSizeOuter(0).tickFormat(d3.format(".2f"));

  var axes = [
    [minorX, "translate(0," + frame.top + ")"],
    [minorY, "translate(" + frame.left + ",0)"],
    [majorX, "translate(0," + frame.top + ")"],
    [majorY, "translate(" + frame.left + ",0)"]
  ];
  axes.forEach(function(a) {
    var ag = g.append("g").attr("transform", a[1]).call(a[0]);
    ag.select(".domain").attr("stroke", "#444").attr("stroke-width", 1);
    ag.selectAll(".tick line").attr("stroke", "#444").attr("stroke-width", 1);
    a.g = ag;
  });

  axes[2].g.selectAll("text")
    .attr("x", 0)
    .attr("y", 0)
    .attr("dy", "0.35em")
    .attr("text-anchor", "end")
    .attr("transform", "translate(0,-26) rotate(90) scale(0.62,1)")
    .attr("font-size", 17)
    .attr("fill", "#222");

  axes[3].g.selectAll("text")
    .attr("x", 0)
    .attr("y", 0)
    .attr("dy", "0.35em")
    .attr("text-anchor", "middle")
    .attr("transform", "translate(-25,0) rotate(90)")
    .attr("font-size", 15.5)
    .attr("fill", "#222");
}

drawPanel(rowsLeft, { left: 124, right: 355, top: 104.3, bottom: 873 }, true, true);
drawPanel(rowsMiddle, { left: 437, right: 674, top: 105.3, bottom: 872 }, true, false);
drawPanel(rowsRight, { left: 756.7, right: 982.3, top: 106, bottom: 873 }, false, false);

// colour bar
var legendY = d3.scaleLinear()
  .domain([legendTemps[0], legendTemps[legendTemps.length - 1]])
  .range([526, 878]);

var barGrad = defs.append("linearGradient")
  .attr("id", "barFill")
  .attr("x1", 0).attr("x2", 0).attr("y1", 0).attr("y2", 1);

barGrad.selectAll("stop")
  .data(colorTemps)
  .enter()
  .append("stop")
  .attr("offset", function(d) { return (legendY(d) - 526) / (878 - 526); })
  .attr("stop-color", function(d) { return tempColor(d); });

svg.append("rect")
  .attr("x", 1149)
  .attr("y", 526)
  .attr("width", 78)
  .attr("height", 352)
  .attr("fill", "url(#barFill)")
  .attr("stroke", "#2b2b3a")
  .attr("stroke-width", 1);

var legendAxis = d3.axisRight(legendY)
  .tickValues(legendTemps)
  .tickSize(17)
  .tickSizeOuter(0)
  .tickFormat(function(d, i) { return legendLabels[i]; });

var legendG = svg.append("g")
  .attr("transform", "translate(1227,0)")
  .call(legendAxis);

legendG.select(".domain").attr("stroke", "#2b2b3a");
legendG.selectAll(".tick line").attr("stroke", "#2b2b3a").attr("stroke-width", 1.4);
legendG.selectAll("text")
  .attr("x", 25)
  .attr("font-size", 26)
  .attr("fill", "#2a2a2a");

// panel badge
svg.append("circle")
  .attr("cx", 1106)
  .attr("cy", 61)
  .attr("r", 28)
  .attr("fill", "#fff")
  .attr("stroke", "#1c1c1c")
  .attr("stroke-width", 2.6);

svg.append("text")
  .attr("x", 1104)
  .attr("y", 79)
  .attr("text-anchor", "middle")
  .attr("font-size", 49)
  .attr("font-weight", "bold")
  .attr("font-style", "italic")
  .attr("stroke", "#111")
  .attr("stroke-width", 1.4)
  .style("fill", "#111")
  .text("A");
</script>
</body>
</html>
